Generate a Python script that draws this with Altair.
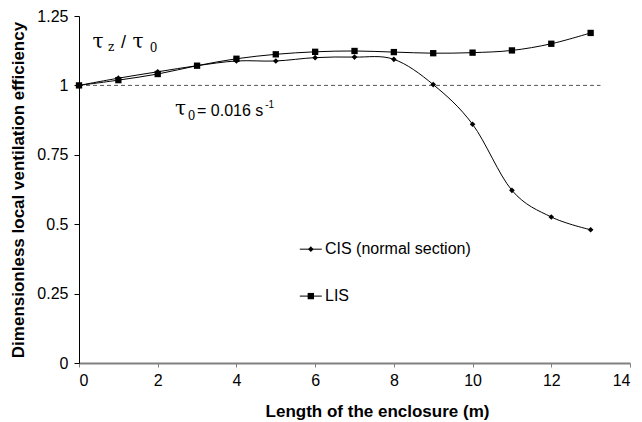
import altair as alt
import pandas as pd

# ---- data ----
x_vals = [0, 1, 2, 3, 4, 5, 6, 7, 8, 9, 10, 11, 12, 13]
cis = [1.000, 1.026, 1.049, 1.071, 1.088, 1.088, 1.100, 1.102, 1.094, 1.003, 0.860, 0.622, 0.526, 0.480]
lis = [1.000, 1.019, 1.041, 1.071, 1.096, 1.112, 1.121, 1.124, 1.120, 1.116, 1.118, 1.126, 1.150, 1.189]
x_ticks = [0, 2, 4, 6, 8, 10, 12, 14]
y_ticks = [0, 0.25, 0.5, 0.75, 1, 1.25]
series_names = ["CIS (normal section)", "LIS"]

df = pd.DataFrame(
    {"x": x_vals * 2,
     "y": cis + lis,
     "s": [series_names[0]] * len(x_vals) + [series_names[1]] * len(x_vals)}
)

W, H = 551, 347
FONT = "Liberation Sans"
SERIF = "DejaVu Serif"

xs = alt.Scale(domain=[0, 14], nice=False, zero=False)
ys = alt.Scale(domain=[0, 1.25], nice=False, zero=False)

base = alt.Chart(df)

X = alt.X(
    "x:Q", scale=xs,
    axis=alt.Axis(
        values=x_ticks, grid=False, title="Length of the enclosure (m)",
        domainColor="#808080", domainWidth=2, tickColor="#808080", tickSize=4, tickWidth=1,
        labelFont=FONT, labelFontSize=16, labelColor="black", labelPadding=5,
        titleFont=FONT, titleFontSize=17, titleFontWeight="bold", titleColor="black",
        titleX=298, titleY=53, titleBaseline="alphabetic", titleAlign="center",
    ),
)
Y = alt.Y(
    "y:Q", scale=ys,
    axis=alt.Axis(
        values=y_ticks, grid=False, labelExpr="'' + datum.value",
        title="Dimensionless local ventilation efficiency",
        domainColor="black", domainWidth=1, tickColor="black", tickSize=5, tickWidth=1,
        labelFont=FONT, labelFontSize=16, labelColor="black", labelPadding=6,
        titleFont=FONT, titleFontSize=17, titleFontWeight="bold", titleColor="black",
        titlePadding=9,
    ),
)

lines = base.mark_line(interpolate="cardinal", color="black", strokeWidth=1).encode(
    x=X, y=Y, detail="s:N"
)

pts_cis = base.transform_filter(alt.datum.s == series_names[0]).mark_point(
    shape="diamond", filled=True, color="black", size=32, opacity=1
).encode(x="x:Q", y="y:Q")
pts_lis = base.transform_filter(alt.datum.s == series_names[1]).mark_point(
    shape="square", filled=True, color="black", size=40, opacity=1
).encode(x="x:Q", y="y:Q")

# reference dashed line at 1
ref = alt.Chart(pd.DataFrame({"x": [0], "x2": [13.25], "y": [1]})).mark_rule(
    color="#555555", strokeDash=[4, 3], strokeWidth=1
).encode(x="x:Q", x2="x2:Q", y="y:Q")

# custom legend
leg = pd.DataFrame({
    "x": [5.61, 5.61], "x2": [6.17, 6.17], "xm": [5.89, 5.89],
    "y": [0.41, 0.241], "s": series_names, "tx": [6.25, 6.25],
})
leg_lines = alt.Chart(leg).mark_rule(color="black", strokeWidth=1).encode(
    x="x:Q", x2="x2:Q", y="y:Q"
)
leg_cis = alt.Chart(leg).transform_filter(alt.datum.s == series_names[0]).mark_point(
    shape="diamond", filled=True, color="black", size=32, opacity=1
).encode(x="xm:Q", y="y:Q")
leg_lis = alt.Chart(leg).transform_filter(alt.datum.s == series_names[1]).mark_point(
    shape="square", filled=True, color="black", size=40, opacity=1
).encode(x="xm:Q", y="y:Q")
leg_text = alt.Chart(leg).mark_text(
    align="left", baseline="middle", font=FONT, fontSize=16, color="black"
).encode(x="tx:Q", y="y:Q", text="s:N")

# annotations
def txt(items, font, size):
    d = pd.DataFrame(items, columns=["x", "y", "t"])
    return alt.Chart(d).mark_text(
        align="left", baseline="alphabetic", font=font, fontSize=size, color="black"
    ).encode(x="x:Q", y="y:Q", text="t:N")

ann = [
    txt([(0.34, 1.134, "τ"), (1.36, 1.134, "τ"), (2.44, 0.892, "τ")], SERIF, 20),
    txt([(0.74, 1.124, "z"), (1.80, 1.122, "0"), (2.76, 0.876, "0")], SERIF, 12),
    txt([(1.07, 1.134, "/")], FONT, 18),
    txt([(3.0, 0.889, "= 0.016 s")], FONT, 16),
    txt([(4.73, 0.918, "-1")], FONT, 10),
]

chart = alt.layer(
    ref, lines, pts_cis, pts_lis, leg_lines, leg_cis, leg_lis, leg_text, *ann
).properties(
    width=W, height=H,
    autosize=alt.AutoSizeParams(type="none"),
    padding={"left": 79, "top": 16, "right": 12, "bottom": 59},
    background="white",
).configure_view(stroke=None)

chart.save("out.html", embed_options={"renderer": "svg", "actions": False})
